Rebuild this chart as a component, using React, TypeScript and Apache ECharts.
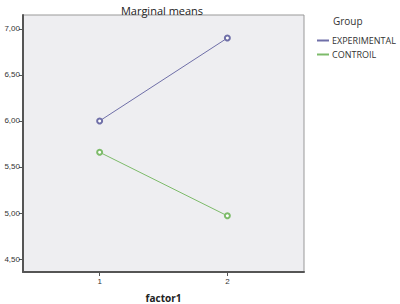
import React, { useEffect, useRef } from "react";
import * as echarts from "echarts";

const factorLevels = [1, 2];
const experimental = [6.0, 6.9];
const control = [5.66, 4.97];
const yTicks = [4.5, 5.0, 5.5, 6.0, 6.5, 7.0];
const seriesNames = ["EXPERIMENTAL", "CONTROIL"];
const seriesColors = ["#6f6fa8", "#7dbb6a"];

export default function App() {
  const ref = useRef<HTMLDivElement>(null);
  useEffect(() => {
    if (!ref.current) return;
    const chart = echarts.init(ref.current, undefined, { renderer: "svg" });
    const font = "'Open Sans', 'Noto Sans', sans-serif";
    chart.setOption({
      animation: false,
      title: [
        {
          text: "Marginal means",
          left: 157,
          textAlign: "center",
          top: 0,
          textStyle: { fontSize: 11, fontWeight: "normal", color: "#222", fontFamily: font },
        },
        {
          text: "Group",
          left: 328,
          top: 11,
          textStyle: { fontSize: 10, fontWeight: "normal", color: "#333", fontFamily: font },
        },
      ],
      legend: {
        orient: "vertical",
        left: 312,
        top: 31,
        itemWidth: 12,
        itemHeight: 2,
        itemGap: 5,
        icon: "rect",
        data: seriesNames,
        textStyle: { fontSize: 9, color: "#333", fontFamily: font, padding: [0, 0, 0, -2] },
      },
      grid: {
        left: 23,
        right: 96,
        top: 15,
        bottom: 32,
        outerBoundsMode: "none",
        containLabel: false,
        show: true,
        backgroundColor: "#eeeef1",
        borderColor: "#999",
        borderWidth: 1,
      },
      xAxis: {
        type: "value",
        min: 0.4,
        max: 2.6,
        name: "factor1",
        nameLocation: "middle",
        nameGap: 21,
        nameTextStyle: { fontSize: 10, fontWeight: "bold", color: "#222", fontFamily: font },
        axisLine: { show: true, onZero: false, lineStyle: { color: "#555", width: 2 } },
        axisTick: { show: true, customValues: factorLevels, length: 4, lineStyle: { color: "#555" } },
        axisLabel: {
          customValues: factorLevels,
          fontSize: 8,
          color: "#333",
          margin: 5,
          formatter: (v: number) => String(v),
        },
        splitLine: { show: false },
      },
      yAxis: {
        type: "value",
        min: 4.36,
        max: 7.15,
        axisLine: { show: true, onZero: false, lineStyle: { color: "#555", width: 2 } },
        axisTick: { show: true, customValues: yTicks, length: 4, lineStyle: { color: "#555" } },
        axisLabel: {
          customValues: yTicks,
          fontSize: 8,
          color: "#333",
          margin: 3,
          formatter: (v: number) => v.toFixed(2).replace(".", ","),
        },
        splitLine: { show: false },
      },
      series: [
        {
          name: seriesNames[0],
          type: "line",
          data: factorLevels.map((f, i) => [f, experimental[i]]),
          symbol: "emptyCircle",
          symbolSize: 5,
          color: seriesColors[0],
          itemStyle: { borderWidth: 1 },
          lineStyle: { width: 1, color: seriesColors[0] },
        },
        {
          name: seriesNames[1],
          type: "line",
          data: factorLevels.map((f, i) => [f, control[i]]),
          symbol: "emptyCircle",
          symbolSize: 5,
          color: seriesColors[1],
          itemStyle: { borderWidth: 1 },
          lineStyle: { width: 1, color: seriesColors[1] },
        },
      ],
    });
    return () => chart.dispose();
  }, []);
  return (
    <div
      ref={ref}
      style={{ position: "absolute", left: 0, top: 0, width: 400, height: 304, background: "#fff" }}
    />
  );
}
